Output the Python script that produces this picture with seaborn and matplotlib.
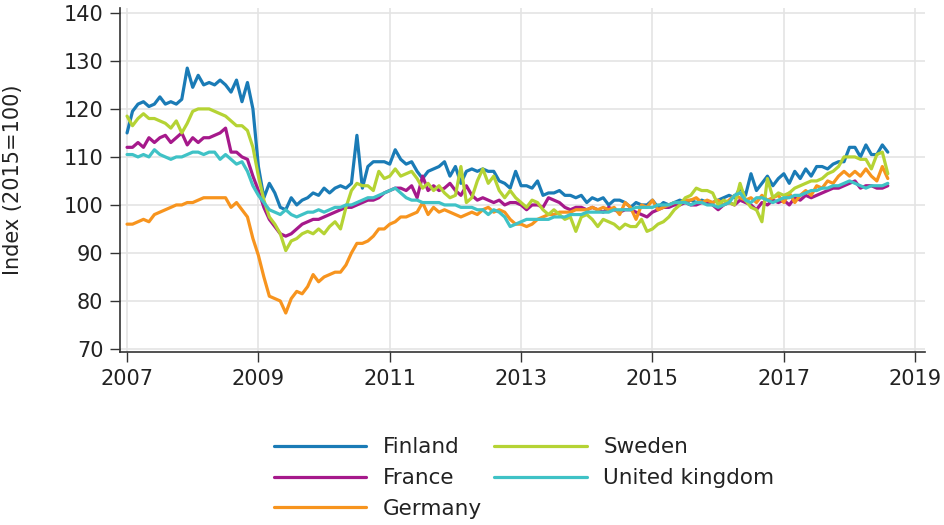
import matplotlib
import matplotlib.pyplot as plt
import pandas as pd
import seaborn as sns

matplotlib.use("Agg")

# monthly index values, Jan 2007 - Aug 2018 (2015=100)
start_year = 2007

finland = [
    115, 119.5, 121, 121.5, 120.5, 121, 122.5, 121, 121.5, 121, 122, 128.5,
    124.5, 127, 125, 125.5, 125, 126, 125, 123.5, 126, 121.5, 125.5, 120,
    108, 101.5, 104.5, 102.5, 99.5, 99, 101.5, 100, 101, 101.5, 102.5, 102,
    103.5, 102.5, 103.5, 104, 103.5, 104.5, 114.5, 103.5, 108, 109, 109, 109,
    108.5, 111.5, 109.5, 108.5, 109, 107, 105.5, 107, 107.5, 108, 109, 106,
    108, 104.5, 107, 107.5, 107, 107.5, 107, 107, 105, 104.5, 103.5, 107,
    104, 104, 103.5, 105, 102, 102.5, 102.5, 103, 102, 102, 101.5, 102,
    100.5, 101.5, 101, 101.5, 100, 101, 101, 100.5, 99.5, 100.5, 100, 100,
    101, 99.5, 100.5, 100, 100.5, 101, 100.5, 101, 100.5, 101, 100.5, 100.5,
    101, 101.5, 102, 101.5, 103.5, 102, 106.5, 103, 104.5, 106, 104, 105.5,
    106.5, 104.5, 107, 105.5, 107.5, 106, 108, 108, 107.5, 108.5, 109, 109,
    112, 112, 110, 112.5, 110.5, 110.5, 112.5, 111,
]

france = [
    112, 112, 113, 112, 114, 113, 114, 114.5, 113, 114, 115, 112.5,
    114, 113, 114, 114, 114.5, 115, 116, 111, 111, 110, 109.5, 106,
    103, 99.5, 97, 95.5, 94, 93.5, 94, 95, 96, 96.5, 97, 97,
    97.5, 98, 98.5, 99, 99.5, 99.5, 100, 100.5, 101, 101, 101.5, 102.5,
    103, 103.5, 103.5, 103, 104, 101.5, 106, 103, 104, 103, 103.5, 104.5,
    103, 102, 104, 102, 101, 101.5, 101, 100.5, 101, 100, 100.5, 100.5,
    100, 99, 100, 100, 99.5, 101.5, 101, 100.5, 99.5, 99, 99.5, 99.5,
    99, 99.5, 99, 98.5, 99.5, 99, 98.5, 99, 99, 98.5, 98, 97.5,
    98.5, 99, 99.5, 99.5, 100, 100, 100.5, 100, 100, 100.5, 100.5, 100,
    99, 100, 100.5, 100, 101, 100.5, 100, 99, 100.5, 100, 101, 100.5,
    101, 100, 101.5, 101, 102, 101.5, 102, 102.5, 103, 103.5, 103.5, 104,
    104.5, 105, 103.5, 104, 104, 103.5, 103.5, 104,
]

germany = [
    96, 96, 96.5, 97, 96.5, 98, 98.5, 99, 99.5, 100, 100, 100.5,
    100.5, 101, 101.5, 101.5, 101.5, 101.5, 101.5, 99.5, 100.5, 99, 97.5, 93,
    89.5, 85, 81, 80.5, 80, 77.5, 80.5, 82, 81.5, 83, 85.5, 84,
    85, 85.5, 86, 86, 87.5, 90, 92, 92, 92.5, 93.5, 95, 95,
    96, 96.5, 97.5, 97.5, 98, 98.5, 100.5, 98, 99.5, 98.5, 99, 98.5,
    98, 97.5, 98, 98.5, 98, 99, 99.5, 98.5, 99, 98.5, 97, 96,
    96, 95.5, 96, 97, 97.5, 98, 98, 98.5, 98.5, 98.5, 99, 99,
    99, 99.5, 99, 99.5, 99, 99.5, 98, 100.5, 99.5, 97, 100, 99.5,
    101, 99, 99.5, 100, 100.5, 100.5, 101, 101, 101.5, 100.5, 101, 100.5,
    101, 100, 101, 102, 101.5, 101, 101.5, 100.5, 102, 101, 101.5, 102,
    100.5, 102.5, 100.5, 102, 103, 102, 104, 103.5, 105, 104.5, 106, 107,
    106, 107, 106, 107.5, 106, 105, 108, 105.5,
]

sweden = [
    118.5, 116.5, 118, 119, 118, 118, 117.5, 117, 116, 117.5, 115, 117,
    119.5, 120, 120, 120, 119.5, 119, 118.5, 117.5, 116.5, 116.5, 115.5, 112,
    106, 101, 97.5, 96, 94, 90.5, 92.5, 93, 94, 94.5, 94, 95,
    94, 95.5, 96.5, 95, 99.5, 103, 104.5, 104, 104, 103, 107, 105.5,
    106, 107.5, 106, 106.5, 107, 105.5, 103.5, 104.5, 103, 104, 102.5, 101.5,
    102, 108, 100.5, 101.5, 105, 107.5, 104.5, 106, 103, 101.5, 103, 101.5,
    100.5, 99.5, 101, 100.5, 99, 98, 99, 98, 97, 97.5, 94.5, 97.5,
    98, 97, 95.5, 97, 96.5, 96, 95, 96, 95.5, 95.5, 97, 94.5,
    95, 96, 96.5, 97.5, 99, 100, 101.5, 102, 103.5, 103, 103, 102.5,
    100, 101, 100.5, 100, 104.5, 101, 99.5, 99, 96.5, 105.5, 101.5, 102.5,
    102, 102.5, 103.5, 104, 104.5, 105, 105, 105.5, 106.5, 107, 108, 110,
    110, 110, 109.5, 109.5, 107.5, 110.5, 111, 106.5,
]

united_kingdom = [
    110.5, 110.5, 110, 110.5, 110, 111.5, 110.5, 110, 109.5, 110, 110, 110.5,
    111, 111, 110.5, 111, 111, 109.5, 110.5, 109.5, 108.5, 109, 107, 104,
    102, 100.5, 99, 98.5, 98, 99, 98, 97.5, 98, 98.5, 98.5, 99,
    98.5, 99, 99.5, 99.5, 100, 100, 100.5, 101, 101.5, 101.5, 102, 102.5,
    103, 103.5, 102.5, 101.5, 101, 101, 100.5, 100.5, 100.5, 100.5, 100, 100,
    100, 99.5, 99.5, 99.5, 99, 99, 98, 99, 98.5, 97.5, 95.5, 96,
    96.5, 97, 97, 97, 97, 97, 97.5, 97.5, 97.5, 98, 98, 98,
    98.5, 98.5, 98.5, 98.5, 98.5, 99, 99, 99, 99, 99.5, 99.5, 99.5,
    99.5, 100, 100, 100, 100.5, 100.5, 100.5, 100, 100.5, 100.5, 100, 100,
    99.5, 100, 100.5, 102, 102.5, 101, 100.5, 101.5, 101.5, 101, 100.5, 101,
    101.5, 101.5, 102, 102, 102.5, 103, 103, 103.5, 103.5, 104, 104, 104.5,
    105, 104.5, 104, 103.5, 104, 104, 104, 104.5,
]

countries = ['Finland', 'France', 'Germany', 'Sweden', 'United kingdom']
colors = ['#1a7bb6', '#a6198b', '#f7941e', '#b5d334', '#3fc2c6']
year_ticks = [2007, 2009, 2011, 2013, 2015, 2017, 2019]
y_ticks = [70, 80, 90, 100, 110, 120, 130, 140]

rows = []
for name, vals in zip(countries, [finland, france, germany, sweden, united_kingdom]):
    for i, v in enumerate(vals):
        rows.append({'time': start_year + i / 12, 'country': name, 'value': v})
df = pd.DataFrame(rows)

sns.set_theme(style='white')
plt.rcParams['font.family'] = ['DejaVu Sans']
text_color = '#222222'

fig = plt.figure(figsize=(9.45, 5.25), dpi=100)
ax = fig.add_axes([0.127, 0.3295, 0.852, 0.6555])

sns.lineplot(data=df, x='time', y='value', hue='country', hue_order=countries,
             palette=colors, linewidth=2.3, ax=ax)

ax.set_xlim(2006.893, 2019.152)
ax.set_ylim(69.375, 141.04)
ax.set_xticks(year_ticks)
ax.set_xticklabels([str(y) for y in year_ticks])
ax.set_yticks(y_ticks)
ax.grid(True, color='#e4e4e4', linewidth=1.2)
ax.set_axisbelow(True)

for side in ['top', 'right']:
    ax.spines[side].set_visible(False)
for side in ['left', 'bottom']:
    ax.spines[side].set_color('#333333')
    ax.spines[side].set_linewidth(1.2)

ax.tick_params(axis='both', which='major', direction='out', length=7, width=1,
               color='#333333', labelsize=15, labelcolor=text_color, pad=5,
               left=True, bottom=True)
ax.set_xlabel('')
ax.set_ylabel('Index (2015=100)', fontsize=15, color=text_color)
ax.yaxis.set_label_coords(-0.12, 0.5)

handles, labels = ax.get_legend_handles_labels()
ax.get_legend().remove()
fig.legend(handles, labels, ncol=2, loc='upper center',
           bbox_to_anchor=(0.5545, 0.204), frameon=False, fontsize=15.5,
           handlelength=4.3, handletextpad=0.75, columnspacing=0.6,
           labelspacing=0.5, labelcolor=text_color)

fig.savefig('out.png', dpi=100)
